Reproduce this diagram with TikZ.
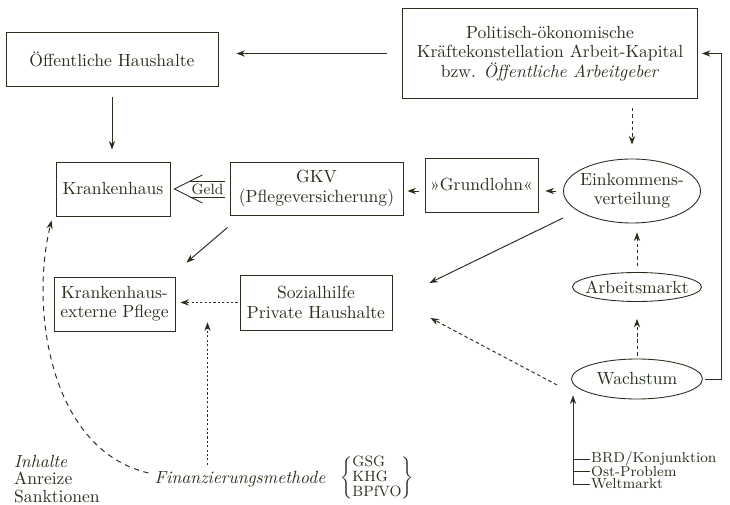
\documentclass[tikz,border=0pt]{standalone}
\usepackage{amsmath}
\usepackage{tikz}
\usetikzlibrary{calc,arrows.meta,shapes.geometric}
\definecolor{tinte}{RGB}{38,48,28}

\begin{document}
\begin{tikzpicture}[
    font=\fontsize{10}{11}\selectfont,
    every node/.style={text=tinte},
    kasten/.style={draw=tinte, line width=0.5pt, align=center, inner sep=0pt},
    oval/.style={draw=tinte, ellipse, line width=0.5pt, align=center, inner ysep=0pt},
    linie/.style={draw=tinte, line width=0.5pt},
    pfeil/.style={draw=tinte, line width=0.55pt, -{Stealth[length=1.7mm,width=1.25mm]}},
    strich/.style={pfeil, dash pattern=on 2pt off 1.6pt},
    punkt/.style={pfeil, dash pattern=on 1.2pt off 1.3pt},
    einfluss/.style={anchor=west, inner sep=0.5pt, font=\fontsize{8.2}{9}\selectfont},
  ]
       \useasboundingbox (0, 0) rectangle (14.6, 10.1);

       % Kästen oben
       \node[kasten, minimum width=4.24cm, minimum height=1.08cm] (oeff) at (2.24, 8.92) {Öffentliche Haushalte};
       \node[kasten, minimum width=5.9cm, minimum height=1.8cm] (politik) at (11.0, 9.03)
            {Politisch-ökonomische\\Kräftekonstellation Arbeit-Kapital\\bzw. \textit{Öffentliche Arbeitgeber}};

       % mittlere Reihe
       \node[kasten, minimum width=2.28cm, minimum height=1.08cm] (kh) at (2.26, 6.32) {Krankenhaus};
       \node[kasten, minimum width=3.46cm, minimum height=1.06cm] (gkv) at (6.33, 6.33) {GKV\\(Pflegeversicherung)};
       \node[kasten, minimum width=2.26cm, minimum height=1.08cm] (grund) at (9.63, 6.40) {»Grundlohn«};
       \node[oval, inner xsep=-0.08cm, minimum width=2.74cm, minimum height=1.28cm] (ek) at (12.64, 6.28) {Einkommens-\\verteilung};

       % untere Reihe
       \node[kasten, minimum width=2.42cm, minimum height=1.08cm] (extern) at (2.29, 4.02) {Krankenhaus-\\externe Pflege};
       \node[kasten, minimum width=3.04cm, minimum height=1.10cm] (sozial) at (6.32, 4.05) {Sozialhilfe\\Private Haushalte};
       \node[oval, inner xsep=-0.12cm, minimum width=2.58cm, minimum height=0.58cm] (arbeit) at (12.74, 4.36) {Arbeitsmarkt};
       \node[oval, inner xsep=0pt, minimum width=2.62cm, minimum height=0.8cm] (wachs) at (12.74, 2.52) {Wachstum};

       % Texte unten
       \node[anchor=west, align=left, font=\fontsize{10}{10}\selectfont] (inhalt) at (0.16, 0.52)
            {\textit{Inhalte}\\Anreize\\Sanktionen};
       \node[font=\itshape] (finanz) at (4.80, 0.52) {Finanzierungsmethode};
       \node[font=\fontsize{8.5}{10}\selectfont] (gesetze) at (7.54, 0.54)
            {\renewcommand{\arraystretch}{0.85}$\left\{\begin{tabular}{@{}l@{}}GSG\\KHG\\BPfVO\end{tabular}\right\}$};

       % Einflüsse auf Wachstum
       \node[einfluss] (brd) at (11.80, 0.92) {BRD/Konjunktion};
       \node[einfluss] (ost) at (11.80, 0.67) {Ost-Problem};
       \node[einfluss] (welt) at (11.80, 0.42) {Weltmarkt};
       \coordinate (wfuss) at (11.46, 0.42);
       \draw[pfeil] (wfuss) -- ($(wfuss |- wachs.south)+(0, 0.08)$);
       \draw[linie] (wfuss |- brd.west) -- (brd.west);
       \draw[linie] (wfuss |- ost.west) -- (ost.west);
       \draw[linie] (wfuss) -- (welt.west);

       % Pfeile oben
       \draw[pfeil, shorten <=0.3cm, shorten >=0.36cm] (politik.west) -- (politik.west -| oeff.east);
       \draw[pfeil, shorten <=0.22cm, shorten >=0.24cm] (oeff.south) -- (oeff.south |- kh.north);
       \draw[strich, shorten <=0.18cm, shorten >=0.28cm] (ek.north |- politik.south) -- (ek.north);
       \draw[pfeil, shorten <=0.04cm, shorten >=0.08cm] (wachs.east) -- ++(0.38, 0) |- (politik.east);

       % Geld
       \coordinate (geldspitze) at ($(kh.east)+(0.08, 0)$);
       \draw[linie] ($(geldspitze)+(0.56, 0.28)$) -- (geldspitze) -- ($(geldspitze)+(0.56, -0.28)$);
       \draw[linie] ($(geldspitze)+(0.32, 0.16)$) -- ($(geldspitze -| gkv.west)+(-0.1, 0.16)$);
       \draw[linie] ($(geldspitze)+(0.32, -0.16)$) -- ($(geldspitze -| gkv.west)+(-0.1, -0.16)$);
       \node[font=\fontsize{8.5}{9}\selectfont, inner sep=0pt] (geld) at ($(geldspitze)!0.6!(geldspitze -| gkv.west)$) {Geld};

       % Pfeile Mitte
       \draw[pfeil, shorten <=0.12cm, shorten >=0.08cm] (grund.west |- ek.west) -- (gkv.east |- ek.west);
       \draw[pfeil, shorten <=0.14cm, shorten >=0.14cm] (ek.west) -- (ek.west -| grund.east);
       \draw[pfeil] ($(gkv.south west)+(-0.04, -0.24)$) -- ($(extern.north east)+(0.22, 0.28)$);
       \draw[pfeil] ($(ek.west)+(0, -0.54)$) -- ($(sozial.east)+(0.74, 0.39)$);
       \draw[strich, shorten <=0.12cm, shorten >=0.18cm] (arbeit.north) -- (arbeit.north |- ek.south);
       \draw[strich, shorten <=0.06cm, shorten >=0.34cm] (wachs.north) -- (arbeit.south);
       \draw[strich] ($(wachs.west)+(-0.28, -0.12)$) -- ($(sozial.east)+(0.76, -0.31)$);
       \draw[punkt, shorten <=0.04cm, shorten >=0.1cm] (sozial.west) -- (sozial.west -| extern.east);

       % Finanzierung
       \coordinate (fmitte) at ($(extern.east)!0.5!(sozial.west)$);
       \draw[punkt] (finanz.north -| fmitte) -- ($(fmitte)+(0, -0.38)$);
       \draw[pfeil, dash pattern=on 3pt off 2.6pt] ($(finanz.west)+(0, 0.12)$)
            .. controls +(-1.96, 0.46) and +(-0.44, -1.8) .. ($(kh.south west)+(-0.08, -0.08)$);
\end{tikzpicture}
\end{document}
